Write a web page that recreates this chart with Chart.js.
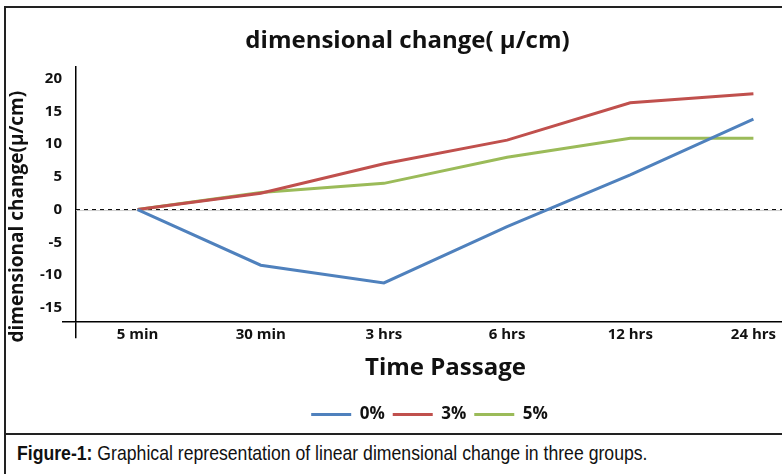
<!DOCTYPE html>
<html>
<head>
<meta charset="utf-8">
<title>dimensional change</title>
<script src="https://cdn.jsdelivr.net/npm/chart.js@4.4.0/dist/chart.umd.min.js"></script>
<style>
    html, body { margin: 0; padding: 0; background: #fff; overflow: hidden; }
    #frame {
        position: absolute; left: 4px; top: 6px;
        width: 840px; height: 480px;
        border: 2px solid #222;
    }
    #chartBox { position: absolute; left: -6px; top: 0; width: 815px; height: 425px; }
    #caption {
        position: absolute; left: 0; top: 425px; width: 100%; height: 60px;
        border-top: 2px solid #222;
        padding: 7px 0 0 11px; box-sizing: border-box;
    }
    #captionText {
        display: inline-block; white-space: nowrap;
        font-family: "Liberation Sans", Arial, sans-serif;
        font-size: 21px; line-height: 21px; color: #111;
        transform-origin: left top;
    }
</style>
</head>
<body>
<div id="frame">
    <div id="chartBox"><canvas id="chart"></canvas></div>
    <div id="caption"><span id="captionText"><b>Figure-1:</b> Graphical representation of linear dimensional change in three groups.</span></div>
</div>
<script>
// values
const categories = ['5 min', '30 min', '3 hrs', '6 hrs', '12 hrs', '24 hrs'];
const seriesNames = ['0%', '3%', '5%'];
const group0 = [0, -8.5, -11.2, -2.6, 5.3, 13.8];
const group3 = [0, 2.5, 7.0, 10.6, 16.3, 17.7];
const group5 = [0, 2.6, 4.0, 8.0, 10.9, 10.9];
const yTicks = [-15, -10, -5, 0, 5, 10, 15, 20];
const yMin = -17.2;
const yMax = 21.8;

const colors = ['#4f81bd', '#c0504d', '#9bbb59'];
const fontFamily = '"Open Sans", Lato, sans-serif';

// caption font is a condensed face in the original, squeeze it to the same width
const cap = document.getElementById('captionText');
cap.style.transform = 'scaleX(' + (631 / cap.offsetWidth).toFixed(3) + ')';

// dashed reference line at zero
const zeroLine = {
    id: 'zeroLine',
    beforeDatasetsDraw(chart) {
        const { ctx, chartArea } = chart;
        const y = chart.scales.y.getPixelForValue(0);
        ctx.save();
        ctx.strokeStyle = '#cfcfcf';
        ctx.lineWidth = 1;
        ctx.beginPath();
        ctx.moveTo(chartArea.left, y + 1);
        ctx.lineTo(chartArea.right, y + 1);
        ctx.stroke();
        ctx.strokeStyle = '#000';
        ctx.setLineDash([4, 4]);
        ctx.beginPath();
        ctx.moveTo(chartArea.left, y);
        ctx.lineTo(chartArea.right, y);
        ctx.stroke();
        ctx.restore();
    }
};

// legend sits a bit right of centre in the original
const legendShift = {
    id: 'legendShift',
    afterLayout(chart) {
        chart.legend.left += 22;
        chart.legend.right += 22;
    }
};

const ctx = document.getElementById('chart').getContext('2d');

new Chart(ctx, {
    type: 'line',
    data: {
        labels: categories,
        datasets: [group0, group3, group5].map((data, i) => ({
            label: seriesNames[i],
            data: data,
            borderColor: colors[i],
            backgroundColor: colors[i],
            borderWidth: 3,
            tension: 0,
            pointRadius: 0,
            pointHoverRadius: 0
        }))
    },
    options: {
        responsive: true,
        maintainAspectRatio: false,
        animation: false,
        layout: { padding: 0 },
        plugins: {
            title: {
                display: true,
                text: 'dimensional change( \u03bc/cm)',
                color: '#111',
                font: { family: fontFamily, size: 24, weight: 'bold' },
                padding: { top: 19, bottom: 11 }
            },
            legend: {
                display: true,
                position: 'bottom',
                labels: {
                    usePointStyle: true,
                    pointStyle: 'line',
                    pointStyleWidth: 40,
                    color: '#111',
                    padding: 8,
                    font: { family: fontFamily, size: 17, weight: 'bold' }
                }
            },
            tooltip: { enabled: false }
        },
        scales: {
            x: {
                offset: true,
                grid: {
                    display: true,
                    offset: true,
                    drawOnChartArea: false,
                    drawTicks: true,
                    tickLength: 16,
                    lineWidth: 1.5,
                    color: (c) => c.index === 0 ? '#000' : 'rgba(0,0,0,0)'
                },
                border: { display: true, color: '#000', width: 1.5 },
                ticks: {
                    color: '#111',
                    padding: -12,
                    autoSkip: false,
                    maxRotation: 0,
                    font: { family: fontFamily, size: 15, weight: 'bold' }
                },
                title: {
                    display: true,
                    text: 'Time Passage',
                    color: '#111',
                    font: { family: fontFamily, size: 24, weight: 'bold' },
                    padding: { top: 22, bottom: 15 }
                }
            },
            y: {
                min: yMin,
                max: yMax,
                afterBuildTicks(scale) {
                    scale.ticks = [yMin, ...yTicks].map(v => ({ value: v }));
                },
                afterFit(scale) {
                    scale.width = 76;
                },
                grid: {
                    display: true,
                    drawOnChartArea: false,
                    drawTicks: true,
                    tickLength: 14,
                    lineWidth: 1.5,
                    color: (c) => c.tick && c.tick.value === yMin ? '#000' : 'rgba(0,0,0,0)'
                },
                border: { display: true, color: '#000', width: 1.5 },
                ticks: {
                    color: '#111',
                    padding: 0,
                    font: { family: fontFamily, size: 15, weight: 'bold' },
                    callback: (value) => yTicks.includes(value) ? value : ''
                },
                title: {
                    display: true,
                    text: 'dimensional change(\u00b5/cm)         ',
                    color: '#111',
                    font: { family: fontFamily, size: 19, weight: 'bold' },
                    padding: { top: 6, bottom: 0 }
                }
            }
        }
    },
    plugins: [zeroLine, legendShift]
});
</script>
</body>
</html>
